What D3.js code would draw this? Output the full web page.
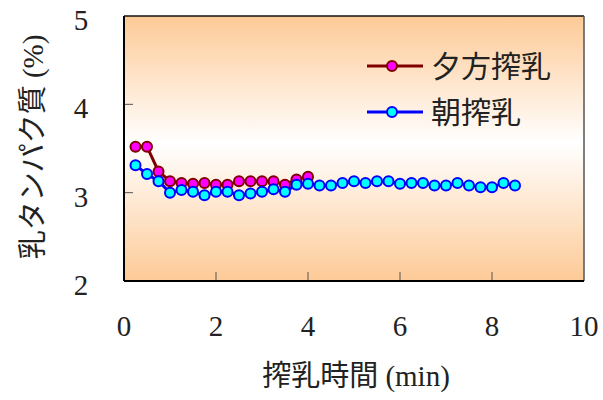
<!DOCTYPE html>
<html>
<head>
<meta charset="utf-8">
<script src="https://cdn.jsdelivr.net/npm/d3@7"></script>
<style>
  body { margin: 0; background: #fff; }
  text { font-family: "Liberation Serif", "Times New Roman", "DejaVu Serif", "Noto Sans CJK JP", serif; fill: #222; }
</style>
</head>
<body>
<div id="chart"></div>
<script>
var width = 603;
var height = 400;

// data
var eveningTimes = [0.25, 0.5, 0.75, 1.0, 1.25, 1.5, 1.75, 2.0, 2.25, 2.5, 2.75, 3.0, 3.25, 3.5, 3.75, 4.0];
var eveningValues = [3.52, 3.52, 3.24, 3.13, 3.11, 3.10, 3.11, 3.09, 3.09, 3.13, 3.13, 3.13, 3.13, 3.09, 3.15, 3.18];
var morningTimes = [0.25, 0.5, 0.75, 1.0, 1.25, 1.5, 1.75, 2.0, 2.25, 2.5, 2.75, 3.0, 3.25, 3.5, 3.75, 4.0,
  4.25, 4.5, 4.75, 5.0, 5.25, 5.5, 5.75, 6.0, 6.25, 6.5, 6.75, 7.0, 7.25, 7.5, 7.75, 8.0, 8.25, 8.5];
var morningValues = [3.31, 3.21, 3.13, 3.00, 3.03, 3.01, 2.97, 3.01, 3.01, 2.97, 2.99, 3.01, 3.04, 3.01, 3.09, 3.10,
  3.08, 3.08, 3.11, 3.13, 3.11, 3.13, 3.13, 3.10, 3.11, 3.11, 3.08, 3.08, 3.11, 3.08, 3.06, 3.06, 3.11, 3.08];
var seriesNames = ['夕方搾乳', '朝搾乳'];
var xTicks = [0, 2, 4, 6, 8, 10];
var yTicks = [2, 3, 4, 5];
var xLabel = '搾乳時間 (min)';
var yLabel = '乳タンパク質 (%)';

var series = [
  { name: seriesNames[0], xs: eveningTimes, ys: eveningValues, line: '#800000', fill: '#ff00ff', stroke: '#800000' },
  { name: seriesNames[1], xs: morningTimes, ys: morningValues, line: '#0000ff', fill: '#00ffff', stroke: '#0000ff' }
];

var plotLeft = 124, plotRight = 584, plotTop = 16, plotBottom = 281;

var x = d3.scaleLinear().domain([0, 10]).range([plotLeft, plotRight]);
var y = d3.scaleLinear().domain([2, 5]).range([plotBottom, plotTop]);

var svg = d3.select('#chart').append('svg')
  .attr('width', width)
  .attr('height', height);

var grad = svg.append('defs').append('linearGradient')
  .attr('id', 'bg')
  .attr('x1', 0).attr('y1', 0).attr('x2', 0).attr('y2', 1);
grad.append('stop').attr('offset', '0%').attr('stop-color', '#fdca96');
grad.append('stop').attr('offset', '48%').attr('stop-color', '#ffffff');
grad.append('stop').attr('offset', '100%').attr('stop-color', '#fdca96');

svg.append('rect')
  .attr('x', plotLeft).attr('y', plotTop)
  .attr('width', plotRight - plotLeft).attr('height', plotBottom - plotTop)
  .style('fill', 'url(#bg)');

// ticks inside plot
svg.selectAll('.ytick')
  .data(yTicks.slice(1, -1))
  .enter().append('line')
  .attr('x1', plotLeft).attr('x2', plotLeft + 9)
  .attr('y1', function(d) { return y(d); })
  .attr('y2', function(d) { return y(d); })
  .style('stroke', '#555').style('stroke-width', 1);

svg.selectAll('.xtick')
  .data(xTicks.slice(1, -1))
  .enter().append('line')
  .attr('x1', function(d) { return x(d); })
  .attr('x2', function(d) { return x(d); })
  .attr('y1', plotBottom).attr('y2', plotBottom - 9)
  .style('stroke', '#555').style('stroke-width', 1);

// frame
svg.append('line').attr('x1', plotLeft).attr('x2', plotRight).attr('y1', plotTop).attr('y2', plotTop)
  .style('stroke', '#111').style('stroke-width', 1.5);
svg.append('line').attr('x1', plotRight).attr('x2', plotRight).attr('y1', plotTop).attr('y2', plotBottom)
  .style('stroke', '#555').style('stroke-width', 1.5);
svg.append('line').attr('x1', plotLeft).attr('x2', plotRight).attr('y1', plotBottom).attr('y2', plotBottom)
  .style('stroke', '#000').style('stroke-width', 2);
svg.append('line').attr('x1', plotLeft).attr('x2', plotLeft).attr('y1', plotTop).attr('y2', plotBottom)
  .style('stroke', '#000').style('stroke-width', 2);

// tick labels
svg.selectAll('.ylab')
  .data(yTicks)
  .enter().append('text')
  .attr('x', 81)
  .attr('y', function(d) { return y(d) + 4; })
  .attr('text-anchor', 'middle')
  .attr('dominant-baseline', 'central')
  .style('font-size', '29px')
  .text(function(d) { return d; });

svg.selectAll('.xlab')
  .data(xTicks)
  .enter().append('text')
  .attr('x', function(d) { return x(d); })
  .attr('y', 326)
  .attr('text-anchor', 'middle')
  .attr('dominant-baseline', 'central')
  .style('font-size', '29px')
  .text(function(d) { return d; });

// axis titles
svg.append('text')
  .attr('x', 356).attr('y', 376)
  .attr('text-anchor', 'middle')
  .attr('dominant-baseline', 'central')
  .style('font-size', '29px')
  .text(xLabel);

svg.append('text')
  .attr('transform', 'translate(33,147) rotate(-90)')
  .attr('text-anchor', 'middle')
  .attr('dominant-baseline', 'central')
  .style('font-size', '29px')
  .text(yLabel);

// lines and markers
var line = d3.line()
  .x(function(d) { return x(d[0]); })
  .y(function(d) { return y(d[1]); });

series.forEach(function(s) {
  var pts = d3.zip(s.xs, s.ys);
  svg.append('path')
    .attr('d', line(pts))
    .style('fill', 'none')
    .style('stroke', s.line)
    .style('stroke-width', 3);
  svg.selectAll(null)
    .data(pts)
    .enter().append('circle')
    .attr('cx', function(d) { return x(d[0]); })
    .attr('cy', function(d) { return y(d[1]); })
    .attr('r', 5)
    .style('fill', s.fill)
    .style('stroke', s.stroke)
    .style('stroke-width', 2);
});

// legend
var legend = svg.selectAll('.legend')
  .data(series)
  .enter().append('g')
  .attr('transform', function(d, i) { return 'translate(0,' + (66 + i * 46) + ')'; });

legend.append('line')
  .attr('x1', 367).attr('x2', 423).attr('y1', 0).attr('y2', 0)
  .style('stroke', function(d) { return d.line; })
  .style('stroke-width', 3);
legend.append('circle')
  .attr('cx', 392).attr('cy', 0).attr('r', 5)
  .style('fill', function(d) { return d.fill; })
  .style('stroke', function(d) { return d.stroke; })
  .style('stroke-width', 2);
legend.append('text')
  .attr('x', 431).attr('y', 0)
  .attr('dominant-baseline', 'central')
  .style('font-size', '30px')
  .text(function(d) { return d.name; });
</script>
</body>
</html>
